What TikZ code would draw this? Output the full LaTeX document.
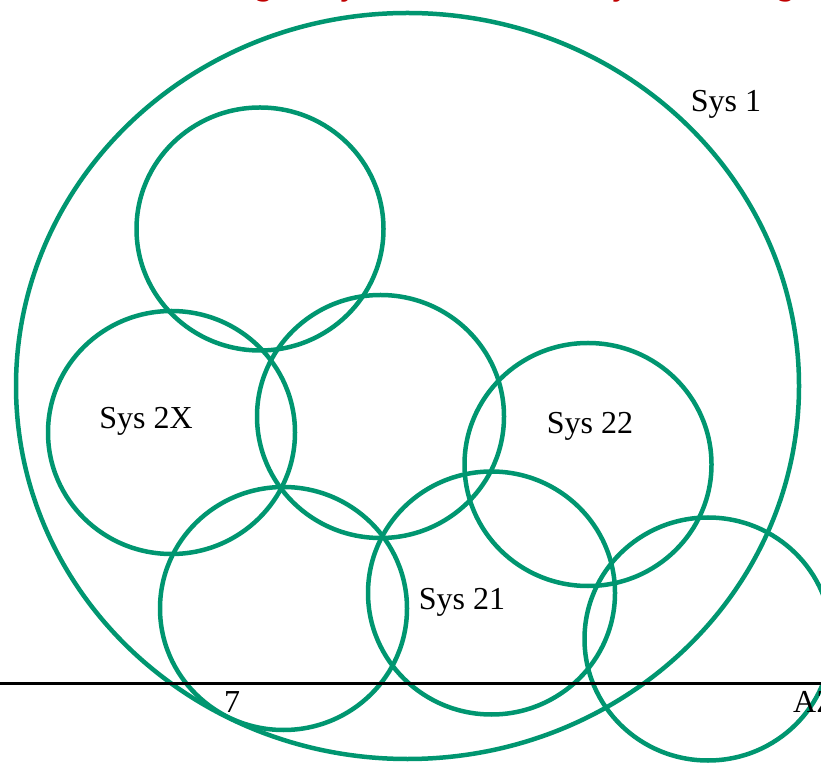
\documentclass[tikz,border=0pt]{standalone}
\usepackage{fontspec}
\setmainfont{Liberation Serif}
\definecolor{sysgreen}{RGB}{0,150,112}
\definecolor{notered}{RGB}{192,0,0}
\tikzset{
  sysring/.style={draw=sysgreen, line width=4.5pt},
  syslabel/.style={font=\fontsize{32}{38}\selectfont, inner sep=0pt},
}
\begin{document}
\begin{tikzpicture}
				\useasboundingbox (0,0) rectangle (821pt,763pt);
				\clip (0,0) rectangle (821pt,763pt);
				\node[anchor=base west, inner sep=0pt, text=notered, font=\fontsize{36}{42}\selectfont\itshape] (note) at (-59pt,768pt) {the borders are moving away to be so necessary and to align them};
				\coordinate (S1) at (407.5pt,377pt);
				\coordinate (T) at (260pt,534pt);
				\coordinate (S2X) at (171.5pt,330.5pt);
				\coordinate (M) at (380.5pt,346.5pt);
				\coordinate (S22) at (588pt,298.5pt);
				\coordinate (BL) at (283.5pt,154.5pt);
				\coordinate (S21) at (491.5pt,170pt);
				\coordinate (BR) at (708pt,124pt);
				\draw[sysring] (S1) ellipse [x radius=391.5pt, y radius=373pt];
				\foreach \P in {T,S2X,M,S22,BL,S21,BR} \draw[sysring] (\P) ellipse [x radius=123.5pt, y radius=121.5pt];
				\coordinate (axisL) at (0,80pt);
				\coordinate (axisR) at (821pt,80pt);
				\draw[line width=3pt] (axisL)--(axisR);
				\node[syslabel] (lab1) at (726pt,659pt) {Sys 1};
				\node[syslabel] (lab2X) at (146pt,342pt) {Sys 2X};
				\node[syslabel] (lab22) at (590pt,337pt) {Sys 22};
				\node[syslabel] (lab21) at (462pt,161pt) {Sys 21};
				\node[syslabel] (tick7) at (232pt,61pt) {7};
				\node[syslabel, anchor=west] (tickAZ) at (793pt,61pt) {AZ};
			\end{tikzpicture}
\end{document}
